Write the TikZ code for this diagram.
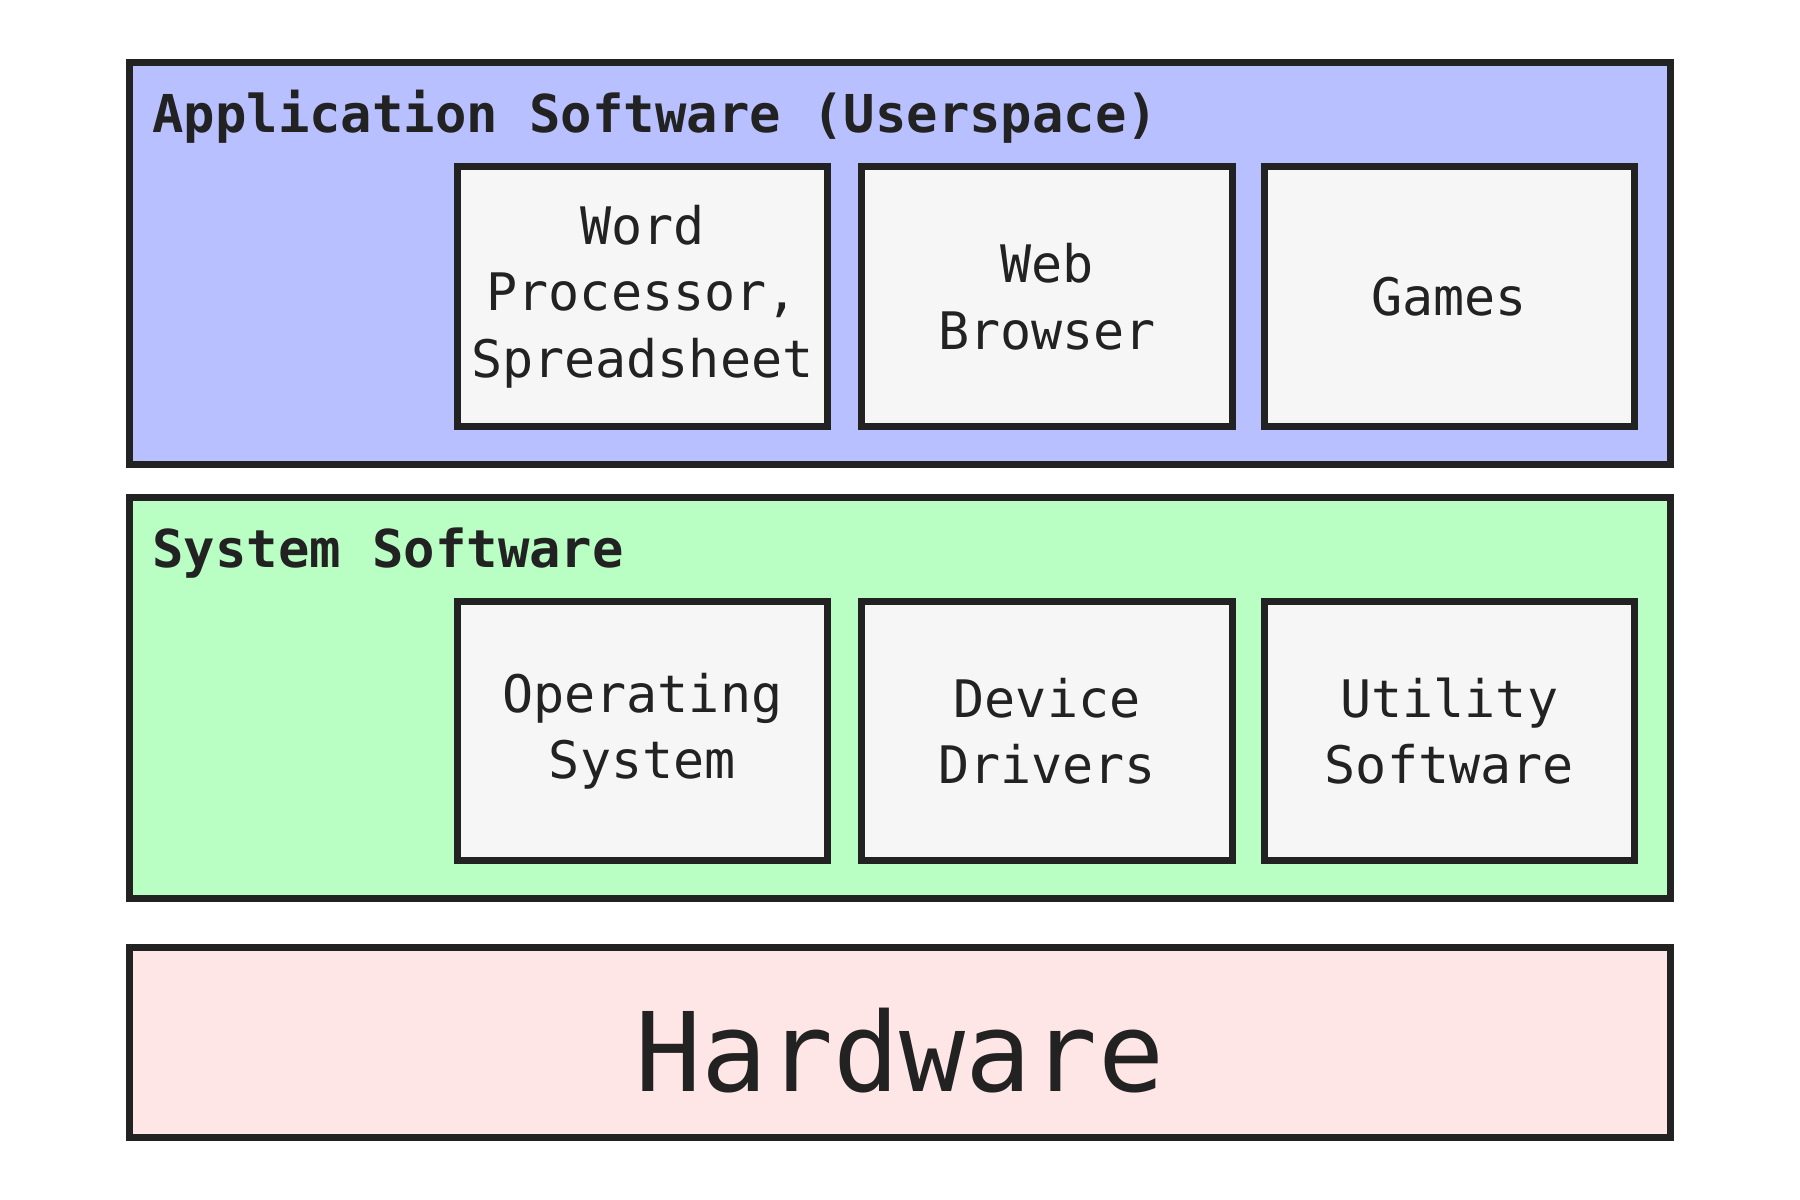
\documentclass[tikz,border=0pt]{standalone}
\usepackage{fontspec}
\setmonofont{DejaVu Sans Mono}
\definecolor{ink}{HTML}{222222}
\definecolor{appfill}{HTML}{B9C0FF}
\definecolor{sysfill}{HTML}{B9FFC4}
\definecolor{hwfill}{HTML}{FFE6E6}
\definecolor{boxfill}{HTML}{F6F6F6}
\begin{document}
\begin{tikzpicture}[x=0.5pt,y=-0.5pt,
  layer/.style={draw=ink, line width=3.5pt, minimum width=770.75pt, inner sep=0pt},
  item/.style={draw=ink, fill=boxfill, line width=3.5pt, minimum width=185.25pt, minimum height=129.75pt, align=center, text=ink, inner sep=0pt, font=\ttfamily\fontsize{25.85}{33.2}\selectfont},
  title/.style={anchor=base west, text=ink, inner sep=0pt, font=\ttfamily\bfseries\fontsize{26.1}{30}\selectfont}]
\useasboundingbox (0,0) rectangle (1800,1200);
% layers
\node[layer, fill=appfill, minimum height=201.05pt] (app) at (899.75,263.45) {};
\node[layer, fill=sysfill, minimum height=200.75pt] (sys) at (899.75,697.95) {};
\node[layer, fill=hwfill, minimum height=94.6pt] (hw) at (899.75,1042.4) {};
\node[anchor=base, text=ink, inner sep=0pt, font=\ttfamily\fontsize{54.9}{58}\selectfont] (hwlabel) at (899.75,1091) {Hardware};
% titles
\node[title] (apptitle) at (152,132) {Application Software (Userspace)};
\node[title] (systitle) at (152,567) {System Software};
% application items
\node[item] (word) at (642.25,296.7) {Word\\Processor,\\Spreadsheet};
\node[item] (web) at (1047,296.7) {Web\\Browser};
\node[item] (games) at (1449.25,296.7) {Games};
% system items
\node[item] (os) at (642.25,731) {Operating\\System};
\node[item] (dd) at (1047,731) {Device\\Drivers};
\node[item] (util) at (1449.25,731) {Utility\\Software};
\end{tikzpicture}
\end{document}
